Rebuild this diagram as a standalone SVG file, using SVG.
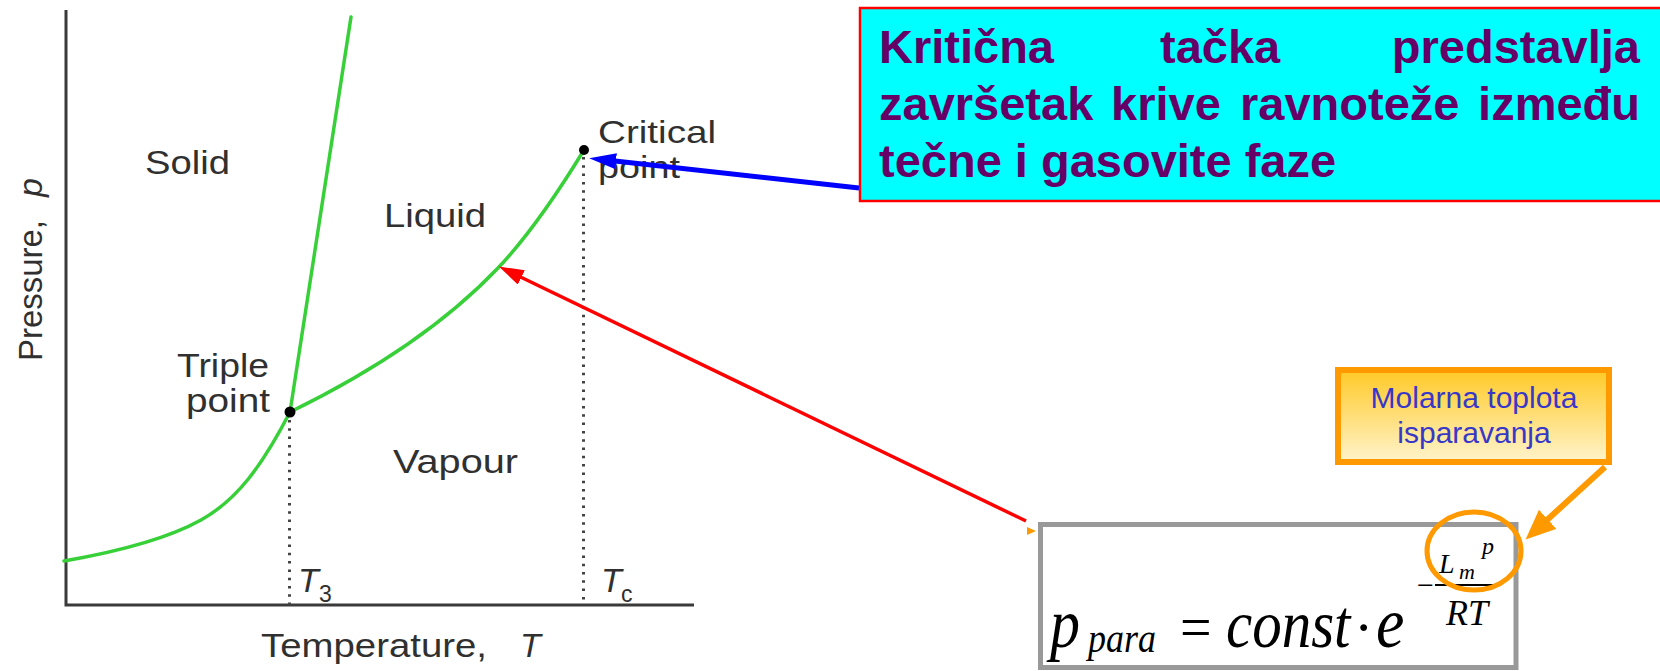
<svg xmlns="http://www.w3.org/2000/svg" width="1660" height="671" viewBox="0 0 1660 671">
<style>
.lbl{font-family:"Liberation Sans",Arial,sans-serif;font-size:34px;fill:#303030}
.ital{font-style:italic}
.curve{fill:none;stroke:#38d038;stroke-width:3.5;stroke-linecap:round}
.axis{stroke:#3a3a3a;stroke-width:3;fill:none}
.dots{stroke:#444;stroke-width:3;stroke-dasharray:2.5 5.8;fill:none}
.big{font-family:"Liberation Sans",Arial,sans-serif;font-weight:bold;font-size:47px;fill:#660066}
.math{font-family:"Liberation Serif","Times New Roman",serif;font-style:italic;fill:#000}
.call{font-family:"Liberation Sans",Arial,sans-serif;font-size:30px;fill:#3838c8;text-anchor:middle}
</style>
<defs>
<linearGradient id="gold" x1="0" y1="0" x2="0" y2="1">
<stop offset="0" stop-color="#FFC926"/>
<stop offset="1" stop-color="#FFF4CC"/>
</linearGradient>
<marker id="mBlue" markerUnits="userSpaceOnUse" markerWidth="30" markerHeight="18" refX="1" refY="8" orient="auto">
<path d="M0,0 L27,8 L0,16 z" fill="#0000FF"/>
</marker>
<marker id="mRed" markerUnits="userSpaceOnUse" markerWidth="28" markerHeight="18" refX="1" refY="8" orient="auto">
<path d="M0,0 L25,8 L0,16 z" fill="#FF0000"/>
</marker>
<marker id="mOrange" markerUnits="userSpaceOnUse" markerWidth="34" markerHeight="28" refX="1" refY="13" orient="auto">
<path d="M0,0 L30,13 L0,26 z" fill="#FF9900"/>
</marker>
</defs>
<rect width="1660" height="671" fill="#fff"/>

<g id="chart">
<path class="axis" d="M66,10 L66,605 L694,605"/>
<path class="dots" d="M289.5,420 L289.5,605 M583.5,157 L583.5,605"/>
<path class="curve" d="M64,561 C110,553 165,540 201,520 S262,466 290,412"/>
<path class="curve" d="M290,412 L351,17"/>
<path class="curve" d="M290,412 C360,378 438,331 498,268 C528,236.5 562,186 584,150"/>
<circle cx="290" cy="412" r="5.5" fill="#000"/>
<circle cx="584" cy="150" r="5" fill="#000"/>
<text class="lbl" transform="translate(42,361) rotate(-90)"><tspan x="0" y="0" textLength="141" lengthAdjust="spacingAndGlyphs">Pressure,</tspan><tspan class="ital" x="164" y="0">p</tspan></text>
<text class="lbl" x="145" y="174" textLength="85" lengthAdjust="spacingAndGlyphs">Solid</text>
<text class="lbl" x="384" y="227" textLength="102" lengthAdjust="spacingAndGlyphs">Liquid</text>
<text class="lbl" x="598" y="143" style="font-size:32px" textLength="118" lengthAdjust="spacingAndGlyphs">Critical</text>
<text class="lbl" x="598" y="178" style="font-size:32px" textLength="82" lengthAdjust="spacingAndGlyphs">point</text>
<text class="lbl" x="177" y="377" style="font-size:33px" textLength="92" lengthAdjust="spacingAndGlyphs">Triple</text>
<text class="lbl" x="186" y="412" style="font-size:33px" textLength="84" lengthAdjust="spacingAndGlyphs">point</text>
<text class="lbl" x="393" y="473" textLength="125" lengthAdjust="spacingAndGlyphs">Vapour</text>
<text class="lbl" x="261" y="657" textLength="226" lengthAdjust="spacingAndGlyphs">Temperature,</text>
<text class="lbl ital" x="520" y="657">T</text>
<text class="lbl ital" x="298" y="592">T</text>
<text class="lbl" x="319" y="602" style="font-size:23px">3</text>
<text class="lbl ital" x="601" y="592">T</text>
<text class="lbl" x="621" y="602" style="font-size:23px">c</text>
</g>

<g id="formula">
<rect x="1040.5" y="524.5" width="475.5" height="143" fill="#fff" stroke="#999" stroke-width="5"/>
<text class="math" transform="translate(1050,647) scale(1,1.15)" style="font-size:60px">p</text>
<text class="math" transform="translate(1088,652) scale(1,1.15)" style="font-size:36px">para</text>
<text class="math" transform="translate(1180,647) scale(1,1.05)" style="font-size:56px;font-style:normal">=</text>
<text class="math" transform="translate(1226,647) scale(1,1.15)" style="font-size:59px">const</text>
<text class="math" transform="translate(1354,647)" style="font-size:58px;font-style:normal">·</text>
<text class="math" transform="translate(1376,647) scale(1,1.12)" style="font-size:64px">e</text>
<text class="math" x="1417" y="595" style="font-size:30px;font-style:normal">−</text>
<line x1="1435" y1="585" x2="1499" y2="585" stroke="#000" stroke-width="2"/>
<text class="math" x="1439" y="573" style="font-size:28px">L</text>
<text class="math" x="1459" y="579" style="font-size:22px">m</text>
<text class="math" x="1482" y="554" style="font-size:24px">p</text>
<text class="math" x="1446" y="625" style="font-size:36px">RT</text>
<ellipse cx="1474" cy="551" rx="47" ry="39" fill="none" stroke="#FF9900" stroke-width="5"/>
<polygon points="1027,527 1036,531 1027,535" fill="#FF9900"/>
</g>

<g id="callout">
<rect x="1338" y="370" width="271" height="92" fill="url(#gold)" stroke="#FF9900" stroke-width="6"/>
<text class="call" x="1474" y="408">Molarna toplota</text>
<text class="call" x="1474" y="443">isparavanja</text>
</g>

<g id="note">
<rect x="860" y="8" width="820" height="193" fill="#00FFFF" stroke="#FF0000" stroke-width="2.5"/>
<text class="big" x="879" y="63">Kritična</text>
<text class="big" x="1160" y="63">tačka</text>
<text class="big" x="1640" y="63" text-anchor="end">predstavlja</text>
<text class="big" x="879" y="120">završetak</text>
<text class="big" x="1111" y="120">krive</text>
<text class="big" x="1240" y="120">ravnoteže</text>
<text class="big" x="1640" y="120" text-anchor="end">između</text>
<text class="big" x="879" y="177">tečne i gasovite faze</text>
</g>

<g id="connectors">
<line x1="859" y1="188" x2="615" y2="161" stroke="#0000FF" stroke-width="5" marker-end="url(#mBlue)"/>
<line x1="1026" y1="521" x2="520.5" y2="277" stroke="#FF0000" stroke-width="3.5" marker-end="url(#mRed)"/>
<line x1="1605" y1="467" x2="1547" y2="520" stroke="#FF9900" stroke-width="6" marker-end="url(#mOrange)"/>
</g>
</svg>
